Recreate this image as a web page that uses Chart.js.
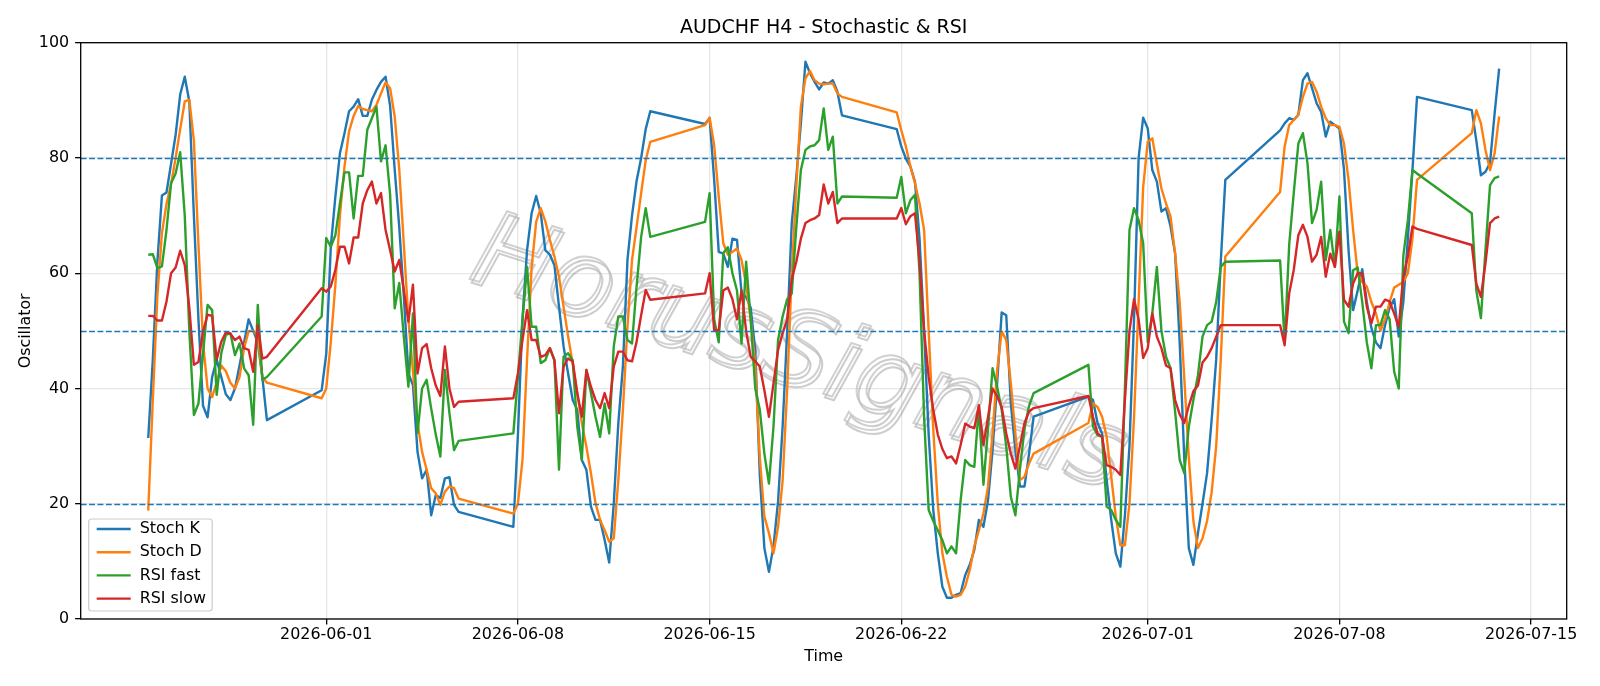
<!DOCTYPE html>
<html>
<head>
<meta charset="UTF-8">
<title>AUDCHF H4 - Stochastic & RSI</title>
<script src="https://cdn.jsdelivr.net/npm/chart.js"></script>
<style>
  html, body { margin: 0; padding: 0; background: #fff; }
</style>
</head>
<body>
<canvas id="oscChart" width="1600" height="686"></canvas>
<script>
// H4 bars: first bar of each trading week and how many bars it has
const sessionStarts = ['2026-05-25T12:00:00Z', '2026-05-31T20:00:00Z', '2026-06-07T20:00:00Z', '2026-06-14T20:00:00Z',
                       '2026-06-21T20:00:00Z', '2026-06-28T20:00:00Z', '2026-07-05T20:00:00Z', '2026-07-12T20:00:00Z'];
const sessionBars = [27, 31, 31, 31, 31, 31, 31, 7];

const stochK = [
  31.4, 45, 62, 73.5, 74, 79, 84, 91, 94.1, 89.8, 70, 52, 37, 35, 42, 45, 42, 39, 38, 40, 44, 48, 52, 50, 48, 42, 34.5,
  39.7, 46, 64.6, 73.3, 80.8, 84.3, 88.1, 88.9, 90.2, 87.3, 87.3, 90.1, 91.8, 93.2, 94.1, 89, 78, 68, 56, 42.6, 40.6, 29, 24.4, 25.9, 18, 21.5, 21, 24.4, 24.6, 19.8, 18.6,
  16, 32, 52, 64, 70.4, 73.4, 70.4, 64, 63.2, 61.4, 54.2, 47.3, 42.6, 38, 36.3, 27.6, 25.9, 19.5, 17.2, 17.2, 13.7, 9.8, 20, 34, 43.8, 62.3, 70, 76, 80, 85, 88.1,
  85.9, 86.9, 76.2, 63.7, 63.4, 61.1, 66, 65.8, 56.5, 55.9, 54, 46.7, 25, 12.3, 8.2, 12.6, 20.4, 33.4, 50, 68.7, 76.7, 86, 96.7, 94.7, 93.2, 91.9, 93.1, 92.9, 93.5, 91.5, 87.4,
  85, 82, 79.9, 78.5, 75.9, 66, 50, 32, 19, 11.4, 5.6, 3.7, 3.7, 4.2, 4.5, 7.6, 9.4, 12, 17.2, 16, 20.6, 29.3, 40.9, 53.2, 52.7, 37.4, 29.3, 23, 23, 28.7, 35.1,
  38.6, 38, 34, 32.2, 24.1, 17.2, 11.4, 9.1, 18, 30, 52, 80, 87, 85.1, 77.9, 75.9, 70.7, 71.3, 68.1, 63.4, 48, 28, 12.3, 9.4, 14.9, 20, 25.3, 34.5, 45, 62, 76.2,
  84.8, 86, 86.9, 86.6, 87.5, 93.5, 94.7, 92.1, 89.5, 88, 83.7, 86.3, 85.7, 85.1, 78, 64, 53.6, 57, 60.7, 55, 50.5, 48, 47, 51, 54, 55.5, 49, 55, 66, 77.9, 90.6,
  88.3, 83, 77, 77.6, 79.1, 87.7, 95.5
];
const stochD = [
  18.8, 38, 56, 67, 72, 75.5, 80, 85, 89.8, 90.1, 83, 65, 48, 40, 38.5, 41, 44, 43, 41, 40, 42, 47, 50, 50, 49, 42, 41,
  38.3, 40, 48, 58, 70, 78.5, 84.6, 87.3, 89, 88.5, 88.3, 88.1, 89.2, 91.2, 93.1, 92.1, 87.2, 78, 65, 52, 43, 34, 29, 25.9, 22.7, 21.8, 19.8, 22.1, 23, 22.7, 20.9,
  18.3, 20, 27.6, 45, 61, 68.9, 71.3, 69, 65.8, 62.9, 59.4, 54.2, 49, 44.4, 39.2, 34, 29.9, 25.3, 20.1, 17.2, 15.4, 13.4, 14, 24.1, 36.3, 50.7, 62.3, 68, 73.9, 79.6, 82.8,
  85.7, 87, 82.2, 73.3, 65.2, 63.2, 63.7, 64.3, 62.3, 58, 52, 44, 28, 17.8, 14.9, 11.4, 16, 24, 40, 60, 75, 88.9, 93.8, 95.1, 93.5, 92.9, 92.8, 92.9, 92.9, 91.2, 90.6,
  87.9, 84.8, 82, 78.5, 75.6, 72.1, 67.5, 50, 33, 20, 11.4, 7.3, 4.2, 3.9, 4.2, 5.6, 8.5, 12.6, 15.4, 18.3, 23, 32.2, 43.2, 49.9, 48.4, 40.9, 32.2, 24.1, 24.7, 27, 28.7,
  34, 37.4, 36.8, 35.1, 31.6, 24.7, 17.8, 12.8, 12.8, 20, 35, 55, 75, 82.8, 83.4, 79, 74.7, 72.1, 69.8, 63.4, 55, 42, 28, 17, 12.3, 14, 17, 22, 30, 45, 62.9,
  74.1, 82, 85.7, 86.6, 87.5, 90.6, 92.9, 93.2, 91.5, 88.9, 86.9, 85.7, 85.7, 85.4, 82.5, 76.2, 67.5, 60, 58.5, 57.7, 55, 53, 50, 52, 55, 57.5, 58, 58.5, 60, 66, 76.2,
  84.3, 88.3, 86, 81.4, 77.9, 80.8, 87.2
];
const rsiFast = [
  63.2, 63.3, 60.9, 61.2, 67.5, 75.6, 77.3, 81, 70, 50, 35.4, 37.4, 46, 54.5, 53.6, 38.9, 46.1, 49.3, 49.6, 45.8, 47.8, 43.5, 42.3, 33.7, 54.5, 41.5, 42,
  52.5, 66.1, 64.6, 66.6, 72.1, 77.5, 77.5, 69.5, 76.9, 76.9, 84.9, 86.9, 88.9, 79.4, 82.2, 73.6, 53.9, 58.3, 49, 40.3, 53, 32.3, 40, 41.5, 36.5, 32, 28.2, 43.2, 35.7, 29.3, 30.9,
  32.2, 42, 52, 61.1, 50.7, 50.7, 44.4, 44.9, 47, 44.9, 25.9, 45.5, 46.1, 44.9, 33.4, 27.6, 43.2, 39.2, 35.1, 31.6, 37.4, 32.2, 47.3, 52.5, 52.5, 48.4, 47.8, 57.7, 66.3, 71.3, 66.3,
  68.9, 73.9, 52, 48, 63.5, 64.5, 60, 57, 47.8, 62, 52, 40, 36.3, 28.7, 23.5, 33.4, 48.4, 52.5, 55.5, 56.5, 68, 77.9, 81.4, 82, 82.2, 83.1, 88.6, 81.4, 83.7, 72.1, 73.3,
  73.1, 76.7, 70.4, 72.7, 73.6, 60, 35, 18.9, 17, 15.4, 13.7, 11.4, 12.6, 11.4, 20.6, 27.6, 26.7, 26.4, 36.8, 23.3, 33, 43.5, 40.3, 36.3, 29.9, 21.2, 18, 26, 33, 37, 39.2,
  44.1, 33.4, 31.9, 31.6, 19.5, 18.9, 17.2, 16, 40, 67.5, 71.3, 69.2, 65.2, 48, 53, 61.1, 50, 45.5, 43.5, 36, 27.6, 25.3, 33.4, 38, 42.3, 49, 51, 51.6, 55, 61.1, 62,
  62.2, 48, 65, 74, 82.5, 84.3, 79.1, 68.7, 71, 75.9, 62.3, 67.5, 61.1, 73.3, 51.6, 49.6, 60.5, 61, 55, 48, 43.5, 51, 51, 53.6, 52, 42.9, 40, 63, 69.2, 77.9, 77.3,
  70.4, 57, 52.2, 64, 75.3, 76.5, 76.8
];
const rsiSlow = [
  52.6, 52.6, 51.8, 51.8, 55.1, 60, 61, 63.9, 61.4, 54, 44.1, 44.6, 49.9, 52.8, 52.6, 45, 48.1, 49.7, 49.5, 48.4, 49, 47, 46.7, 42.9, 51, 45.2, 45.5,
  57.4, 56.8, 57.7, 60.6, 64.6, 64.6, 61.7, 66.2, 66.2, 72.1, 74.4, 75.9, 72.1, 73.9, 67.5, 64, 60.3, 62.3, 57.1, 51.6, 58, 42.6, 47, 47.7, 43.5, 40.5, 38.7, 47.3, 40, 36.8, 37.7,
  38.3, 42.6, 48.4, 53.6, 48.4, 48.4, 45.5, 45.8, 47, 44.9, 35.7, 43.8, 45.2, 44.7, 39.2, 35.1, 43.2, 40.3, 38, 36.6, 39.2, 36.6, 43.8, 46.4, 46.4, 44.9, 44.7, 48.1, 52.7, 57.1, 55.4,
  56.5, 60, 50.1, 50.1, 57, 57.5, 55.5, 52, 57, 50, 45.5, 44.7, 43.8, 39.7, 35.1, 40.9, 46.7, 49.6, 52, 59, 62, 66, 68.7, 69.2, 69.5, 70.1, 75.4, 72.1, 74.1, 68.7, 69.5,
  69.5, 71.3, 68.5, 69.9, 70.4, 62, 50, 42, 36.3, 32, 29.5, 27.9, 28.2, 27, 30.2, 33.9, 33.4, 33.1, 37.1, 30.2, 35, 40, 38.6, 36.8, 32.2, 28.7, 26.1, 30, 34, 36, 36.6,
  38.7, 35.1, 32.2, 31.6, 26.7, 26.4, 25.9, 25, 38, 50, 55.5, 52, 45.3, 47, 53, 49, 47, 44, 43.5, 38, 35.5, 34, 37, 39.5, 40.5, 44.5, 45.5, 47, 49, 51, 51,
  51, 47.5, 56.5, 60.6, 66.6, 68.4, 66.3, 62, 63.2, 66.3, 59.4, 63.4, 61.1, 67.2, 55.4, 54.2, 58.2, 60, 60, 54.2, 51.3, 54.2, 54.2, 55.4, 55.1, 53, 50.7, 59.4, 62.9, 68.1, 67.7,
  64.9, 58.2, 55.9, 61.7, 68.7, 69.5, 69.8
];

const tickDates = ['2026-06-01', '2026-06-08', '2026-06-15', '2026-06-22', '2026-07-01', '2026-07-08', '2026-07-15'];
const yTicks = [0, 20, 40, 60, 80, 100];
const refLevels = [20, 50, 80];

// time of every bar
const H4 = 4 * 3600 * 1000;
const times = [];
sessionStarts.forEach(function(s, i) {
  const t0 = Date.parse(s);
  for (let b = 0; b < sessionBars[i]; b++) times.push(t0 + b * H4);
});

// matplotlib style 5% margin on the time axis
const tFirst = times[0], tLast = times[times.length - 1];
const xMargin = (tLast - tFirst) * 0.05;

const FONT = 'DejaVu Sans';
Chart.defaults.font.family = FONT;
Chart.defaults.color = '#000';

function pts(vals) {
  return vals.map(function(v, i) { return {x: times[i], y: v}; });
}

const series = [
  {label: 'Stoch K', data: stochK, color: '#1f77b4'},
  {label: 'Stoch D', data: stochD, color: '#ff7f0e'},
  {label: 'RSI fast', data: rsiFast, color: '#2ca02c'},
  {label: 'RSI slow', data: rsiSlow, color: '#d62728'}
];

// title, watermark, dashed levels, frame and legend drawn like matplotlib
const mplDecor = {
  id: 'mplDecor',
  beforeDatasetsDraw(chart) {
    const ctx = chart.ctx;
    ctx.save();
    ctx.translate(798, 357);
    ctx.rotate(18 * Math.PI / 180);
    ctx.font = 'italic 104px "' + FONT + '"';
    ctx.textAlign = 'center';
    ctx.textBaseline = 'middle';
    ctx.lineWidth = 2;
    ctx.strokeStyle = 'rgba(110,110,110,0.35)';
    ctx.strokeText('HorusSignals', 3, 3);
    ctx.strokeStyle = 'rgba(190,190,190,0.7)';
    ctx.strokeText('HorusSignals', 0, 0);
    ctx.restore();
  },
  afterDatasetsDraw(chart) {
    const ctx = chart.ctx;
    const a = chart.chartArea;
    const ys = chart.scales.y;
    ctx.save();
    // dashed reference levels
    ctx.strokeStyle = '#1f77b4';
    ctx.lineWidth = 1.6;
    ctx.setLineDash([5.9, 2.5]);
    refLevels.forEach(function(l) {
      const y = Math.round(ys.getPixelForValue(l)) + 0.5;
      ctx.beginPath();
      ctx.moveTo(a.left, y);
      ctx.lineTo(a.right, y);
      ctx.stroke();
    });
    ctx.setLineDash([]);
    // frame
    ctx.strokeStyle = '#000';
    ctx.lineWidth = 1.3;
    ctx.strokeRect(a.left, a.top, a.right - a.left, a.bottom - a.top);
    // title
    ctx.fillStyle = '#000';
    ctx.font = '19px "' + FONT + '"';
    ctx.textAlign = 'center';
    ctx.textBaseline = 'middle';
    ctx.fillText('AUDCHF H4 - Stochastic & RSI', (a.left + a.right) / 2, 28.5);
    // legend
    const lx = a.left + 8, ly = a.bottom - 8 - 92, lw = 123.5, lh = 92;
    ctx.beginPath();
    ctx.roundRect(lx, ly, lw, lh, 3);
    ctx.fillStyle = 'rgba(255,255,255,0.8)';
    ctx.fill();
    ctx.strokeStyle = '#cccccc';
    ctx.lineWidth = 1.2;
    ctx.stroke();
    ctx.font = '15.9px "' + FONT + '"';
    ctx.textAlign = 'left';
    series.forEach(function(s, i) {
      const y = ly + 10 + i * 23.2;
      ctx.strokeStyle = s.color;
      ctx.lineWidth = 2.4;
      ctx.beginPath();
      ctx.moveTo(lx + 8, y);
      ctx.lineTo(lx + 42, y);
      ctx.stroke();
      ctx.fillStyle = '#000';
      ctx.fillText(s.label, lx + 51, y);
    });
    ctx.restore();
  }
};

new Chart(document.getElementById('oscChart'), {
  type: 'line',
  data: {
    datasets: series.map(function(s, i) {
      return {
        label: s.label,
        data: pts(s.data),
        borderColor: s.color,
        backgroundColor: s.color,
        borderWidth: 2.4,
        pointRadius: 0,
        tension: 0,
        fill: false,
        borderJoinStyle: 'round',
        order: 4 - i
      };
    })
  },
  options: {
    responsive: false,
    animation: false,
    layout: {padding: {top: 42.7, right: 33.3, left: 0, bottom: 0}},
    plugins: {legend: {display: false}, tooltip: {enabled: false}, title: {display: false}},
    scales: {
      x: {
        type: 'linear',
        min: tFirst - xMargin,
        max: tLast + xMargin,
        afterBuildTicks: function(scale) {
          scale.ticks = tickDates.map(function(d) { return {value: Date.parse(d + 'T00:00:00Z')}; });
        },
        afterFit: function(scale) { scale.height = 67; },
        ticks: {
          autoSkip: false, maxRotation: 0, padding: 1,
          font: {size: 15.9}, color: '#000',
          callback: function(v) { return new Date(v).toISOString().slice(0, 10); }
        },
        grid: {color: 'rgba(176,176,176,0.3)', lineWidth: 1.3, tickLength: 5.6, tickColor: '#000', tickWidth: 1.3},
        border: {display: false},
        title: {display: true, text: 'Time', font: {size: 15.9}, color: '#000', padding: {top: 0, bottom: 20}}
      },
      y: {
        min: 0, max: 100,
        afterBuildTicks: function(scale) {
          scale.ticks = yTicks.map(function(v) { return {value: v}; });
        },
        afterFit: function(scale) { scale.width = 80.7; },
        ticks: {padding: 6, font: {size: 15.9}, color: '#000'},
        grid: {color: 'rgba(176,176,176,0.3)', lineWidth: 1.3, tickLength: 5.6, tickColor: '#000', tickWidth: 1.3},
        border: {display: false},
        title: {display: true, text: 'Oscillator', font: {size: 15.9}, color: '#000', padding: {top: 16, bottom: 0}}
      }
    }
  },
  plugins: [mplDecor]
});
</script>
</body>
</html>
